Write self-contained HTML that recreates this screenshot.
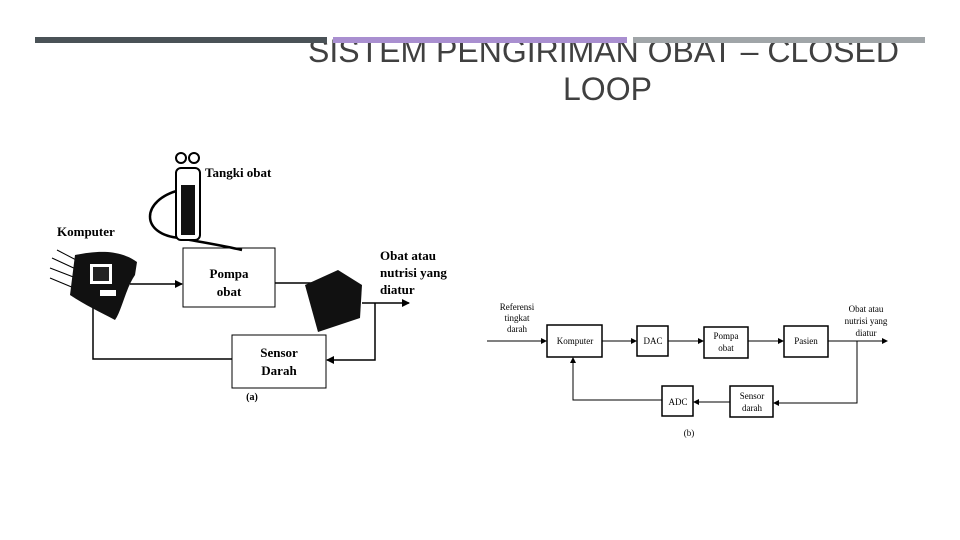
<!DOCTYPE html>
<html><head><meta charset="utf-8"><style>
body{margin:0;width:960px;height:540px;background:#fff;position:relative;overflow:hidden;font-family:"Liberation Serif",serif}
.bar{position:absolute;top:37px;height:6px;z-index:2}
.t{position:absolute;font-family:"Liberation Sans",sans-serif;font-size:32px;color:#404040;white-space:nowrap;line-height:36px}
</style></head><body>
<div class="t" style="left:308px;top:33px">SISTEM PENGIRIMAN OBAT – CLOSED</div>
<div class="t" style="left:563px;top:71px">LOOP</div>
<div class="bar" style="left:35px;width:292px;background:#4a5257"></div>
<div class="bar" style="left:333px;width:294px;background:#a98fd0"></div>
<div class="bar" style="left:633px;width:292px;background:#a0a5a8"></div>
<svg width="960" height="540" style="position:absolute;left:0;top:0" font-family="Liberation Serif, serif">
<defs><marker id="a" markerWidth="8" markerHeight="8" refX="7" refY="4" orient="auto" markerUnits="userSpaceOnUse"><path d="M0,0 L8,4 L0,8z" fill="#000"/></marker>
<marker id="s" markerWidth="6" markerHeight="6" refX="5" refY="3" orient="auto" markerUnits="userSpaceOnUse"><path d="M0,0 L6,3 L0,6z" fill="#000"/></marker></defs>
<g stroke="#000" fill="none" stroke-width="1.5">
<rect x="183" y="248" width="92" height="59" stroke-width="1"/>
<rect x="232" y="335" width="94" height="53" stroke-width="1"/>
<line x1="130" y1="284" x2="182" y2="284" marker-end="url(#a)"/>
<line x1="275" y1="283" x2="318" y2="283"/>
<line x1="362" y1="303" x2="409" y2="303" marker-end="url(#a)"/>
<polyline points="375,303 375,360 327,360" marker-end="url(#a)"/>
<polyline points="232,359 93,359 93,300"/>
<path d="M180,190 C140,200 140,235 180,238 C200,242 220,245 242,250" stroke-width="2.5"/>
<line x1="57" y1="250" x2="80" y2="262" stroke-width="1"/>
<line x1="52" y1="258" x2="78" y2="270" stroke-width="1"/>
<line x1="50" y1="268" x2="76" y2="278" stroke-width="1"/>
<line x1="50" y1="278" x2="74" y2="288" stroke-width="1"/>
</g>
<path d="M75,255 C100,250 120,250 137,262 L135,275 C125,290 122,310 115,320 C100,312 85,305 70,295 Z" fill="#111"/>
<rect x="90" y="264" width="22" height="20" fill="#fff"/><rect x="93" y="267" width="16" height="14" fill="#222"/>
<rect x="100" y="290" width="16" height="6" fill="#fff"/>
<rect x="176" y="168" width="24" height="72" rx="5" fill="#fff" stroke="#000" stroke-width="2"/>
<rect x="181" y="185" width="14" height="50" fill="#111"/>
<circle cx="181" cy="158" r="5" fill="#fff" stroke="#000" stroke-width="2"/><circle cx="194" cy="158" r="5" fill="#fff" stroke="#000" stroke-width="2"/>
<path d="M305,285 L338,270 L362,285 L360,318 L318,332 Z" fill="#111"/>
<g font-size="13" font-weight="bold" fill="#000">
<text x="205" y="177">Tangki obat</text>
<text x="57" y="236">Komputer</text>
<text x="229" y="278" text-anchor="middle">Pompa</text>
<text x="229" y="296" text-anchor="middle">obat</text>
<text x="279" y="357" text-anchor="middle">Sensor</text>
<text x="279" y="375" text-anchor="middle">Darah</text>
<text x="380" y="260">Obat atau</text>
<text x="380" y="277">nutrisi yang</text>
<text x="380" y="294">diatur</text>
<text x="252" y="400" font-size="10" text-anchor="middle">(a)</text>
</g>
<g stroke="#000" fill="none" stroke-width="1.5">
<rect x="547" y="325" width="55" height="32"/>
<rect x="637" y="326" width="31" height="30"/>
<rect x="704" y="327" width="44" height="31"/>
<rect x="784" y="326" width="44" height="31"/>
<rect x="662" y="386" width="31" height="30"/>
<rect x="730" y="386" width="43" height="31"/>
<g stroke-width="1">
<line x1="487" y1="341" x2="546" y2="341" marker-end="url(#s)"/>
<line x1="602" y1="341" x2="636" y2="341" marker-end="url(#s)"/>
<line x1="668" y1="341" x2="703" y2="341" marker-end="url(#s)"/>
<line x1="748" y1="341" x2="783" y2="341" marker-end="url(#s)"/>
<line x1="828" y1="341" x2="887" y2="341" marker-end="url(#s)"/>
<polyline points="857,341 857,403 774,403" marker-end="url(#s)"/>
<line x1="730" y1="402" x2="694" y2="402" marker-end="url(#s)"/>
<polyline points="662,400 573,400 573,358" marker-end="url(#s)"/>
</g></g>
<g font-size="9" fill="#000" text-anchor="middle">
<text x="517" y="310">Referensi</text><text x="517" y="321">tingkat</text><text x="517" y="332">darah</text>
<text x="575" y="344">Komputer</text>
<text x="653" y="344">DAC</text>
<text x="726" y="339">Pompa</text><text x="726" y="351">obat</text>
<text x="806" y="344">Pasien</text>
<text x="678" y="405">ADC</text>
<text x="752" y="399">Sensor</text><text x="752" y="411">darah</text>
<text x="866" y="312">Obat atau</text><text x="866" y="324">nutrisi yang</text><text x="866" y="336">diatur</text>
<text x="689" y="436">(b)</text>
</g>
</svg>
</body></html>
